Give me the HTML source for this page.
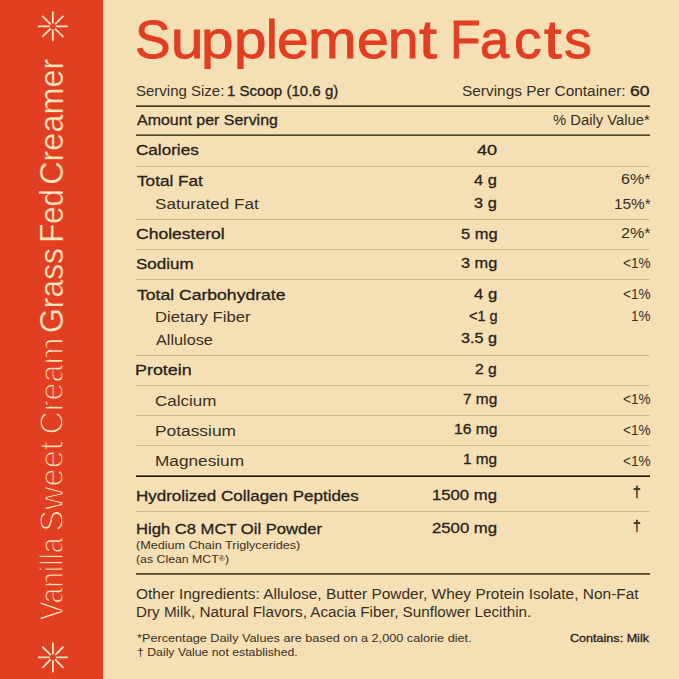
<!DOCTYPE html>
<html><head><meta charset="utf-8"><style>
html,body{margin:0;padding:0;}
body{width:679px;height:679px;background:#f5dfb4;position:relative;overflow:hidden;font-family:"Liberation Sans",sans-serif;color:#29231a;}
.t{position:absolute;white-space:nowrap;transform-origin:0 0;}
.l{position:absolute;}
#sb{position:absolute;left:0;top:0;width:103px;height:679px;background:#e23e21;}
.sw{position:absolute;left:0;top:0;white-space:nowrap;color:#fbe6c0;transform-origin:0 0;}
</style></head><body>
<div id="sb"><svg width="103" height="679" style="position:absolute;left:0;top:0"><path d="M56.50 26.40L67.00 26.40M55.42 29.02L62.84 36.44M52.80 30.10L52.80 40.60M50.18 29.02L42.76 36.44M49.10 26.40L38.60 26.40M50.18 23.78L42.76 16.36M52.80 22.70L52.80 12.20M55.42 23.78L62.84 16.36" stroke="#fbe6c0" stroke-width="1.8" stroke-linecap="round" fill="none"/><path d="M56.60 657.30L67.10 657.30M55.52 659.92L62.94 667.34M52.90 661.00L52.90 671.50M50.28 659.92L42.86 667.34M49.20 657.30L38.70 657.30M50.28 654.68L42.86 647.26M52.90 653.60L52.90 643.10M55.52 654.68L62.94 647.26" stroke="#fbe6c0" stroke-width="1.8" stroke-linecap="round" fill="none"/></svg><div class="sw" style="font-size:33px;line-height:33px;transform:translate(62.9px,620.35px) rotate(-90deg) scaleX(0.8567) translateY(-27.93px);-webkit-text-stroke:1.25px #e23e21;">Vanilla</div><div class="sw" style="font-size:33px;line-height:33px;transform:translate(62.9px,531.70px) rotate(-90deg) scaleX(0.9882) translateY(-27.93px);-webkit-text-stroke:1.25px #e23e21;">Sweet</div><div class="sw" style="font-size:33px;line-height:33px;transform:translate(62.9px,434.48px) rotate(-90deg) scaleX(0.9782) translateY(-27.93px);-webkit-text-stroke:1.25px #e23e21;">Cream</div><div class="sw" style="font-size:33px;line-height:33px;transform:translate(62.9px,332.99px) rotate(-90deg) scaleX(0.9660) translateY(-27.93px);-webkit-text-stroke:0.3px #e23e21;">Grass</div><div class="sw" style="font-size:33px;line-height:33px;transform:translate(62.9px,242.80px) rotate(-90deg) scaleX(0.9432) translateY(-27.93px);-webkit-text-stroke:0.3px #e23e21;">Fed</div><div class="sw" style="font-size:33px;line-height:33px;transform:translate(62.9px,184.82px) rotate(-90deg) scaleX(0.9818) translateY(-27.93px);-webkit-text-stroke:0.3px #e23e21;">Creamer</div></div>
<div class="l" style="top:105px;height:2px;left:136px;width:514px;background:linear-gradient(#857553 0 50%, #3f3419 50% 100%)"></div><div class="l" style="top:134px;height:2px;left:136px;width:514px;background:linear-gradient(#8a7a55 0 50%, #4e4222 50% 100%)"></div><div class="l" style="top:166px;height:1px;left:136px;width:514px;background:#d3bc8b"></div><div class="l" style="top:219px;height:1px;left:136px;width:514px;background:#d3bc8b"></div><div class="l" style="top:249px;height:1px;left:136px;width:514px;background:#d3bc8b"></div><div class="l" style="top:279px;height:1px;left:136px;width:514px;background:#d3bc8b"></div><div class="l" style="top:355px;height:1px;left:136px;width:514px;background:#d3bc8b"></div><div class="l" style="top:385px;height:1px;left:136px;width:514px;background:#d3bc8b"></div><div class="l" style="top:415px;height:1px;left:136px;width:514px;background:#d3bc8b"></div><div class="l" style="top:445px;height:1px;left:136px;width:514px;background:#d3bc8b"></div><div class="l" style="top:511px;height:1px;left:136px;width:514px;background:#d3bc8b"></div><div class="l" style="top:475px;height:2px;left:136px;width:514px;background:linear-gradient(#6e5e44 0 50%, #1c120a 50% 100%)"></div><div class="l" style="top:573px;height:2px;left:136px;width:514px;background:linear-gradient(#574a28 0 50%, #6f623f 50% 100%)"></div>
<div class="t" style="left:135.96px;top:83.33px;font-size:15.2px;line-height:15.2px;transform:scaleX(0.9874);color:#383022;">Serving Size:</div><div class="t" style="left:226.91px;top:83.33px;font-size:15.2px;line-height:15.2px;transform:scaleX(0.9910);-webkit-text-stroke:0.3px #29231a;">1 Scoop (10.6 g)</div><div class="t" style="left:462.44px;top:83.33px;font-size:15.2px;line-height:15.2px;transform:scaleX(1.0148);color:#383022;">Servings Per Container:</div><div class="t" style="left:630.42px;top:83.33px;font-size:15.2px;line-height:15.2px;transform:scaleX(1.1562);-webkit-text-stroke:0.3px #29231a;">60</div><div class="t" style="left:136.76px;top:111.73px;font-size:15.2px;line-height:15.2px;transform:scaleX(1.0497);-webkit-text-stroke:0.3px #29231a;">Amount per Serving</div><div class="t" style="left:552.61px;top:111.73px;font-size:15.2px;line-height:15.2px;transform:scaleX(0.9736);color:#383022;">% Daily Value*</div><div class="t" style="left:136.04px;top:141.63px;font-size:15.2px;line-height:15.2px;transform:scaleX(1.1255);-webkit-text-stroke:0.3px #29231a;">Calories</div><div class="t" style="left:476.80px;top:142.43px;font-size:15.2px;line-height:15.2px;transform:scaleX(1.1939);-webkit-text-stroke:0.3px #29231a;">40</div><div class="t" style="left:136.60px;top:172.63px;font-size:15.2px;line-height:15.2px;transform:scaleX(1.1313);-webkit-text-stroke:0.3px #29231a;">Total Fat</div><div class="t" style="left:474.30px;top:171.93px;font-size:15.2px;line-height:15.2px;transform:scaleX(1.0829);-webkit-text-stroke:0.3px #29231a;">4 g</div><div class="t" style="left:621.01px;top:171.13px;font-size:15.2px;line-height:15.2px;transform:scaleX(1.0579);color:#383022;">6%*</div><div class="t" style="left:154.85px;top:195.83px;font-size:15.2px;line-height:15.2px;transform:scaleX(1.1288);color:#383022;">Saturated Fat</div><div class="t" style="left:474.43px;top:195.13px;font-size:15.2px;line-height:15.2px;transform:scaleX(1.0765);-webkit-text-stroke:0.3px #29231a;">3 g</div><div class="t" style="left:613.69px;top:195.83px;font-size:15.2px;line-height:15.2px;transform:scaleX(1.0114);color:#383022;">15%*</div><div class="t" style="left:135.92px;top:226.03px;font-size:15.2px;line-height:15.2px;transform:scaleX(1.1550);-webkit-text-stroke:0.3px #29231a;">Cholesterol</div><div class="t" style="left:460.76px;top:225.53px;font-size:15.2px;line-height:15.2px;transform:scaleX(1.0831);-webkit-text-stroke:0.3px #29231a;">5 mg</div><div class="t" style="left:621.01px;top:224.83px;font-size:15.2px;line-height:15.2px;transform:scaleX(1.0579);color:#383022;">2%*</div><div class="t" style="left:135.94px;top:256.33px;font-size:15.2px;line-height:15.2px;transform:scaleX(1.1184);-webkit-text-stroke:0.3px #29231a;">Sodium</div><div class="t" style="left:461.03px;top:255.33px;font-size:15.2px;line-height:15.2px;transform:scaleX(1.0748);-webkit-text-stroke:0.3px #29231a;">3 mg</div><div class="t" style="left:622.83px;top:255.13px;font-size:15.2px;line-height:15.2px;transform:scaleX(0.8941);color:#383022;">&lt;1%</div><div class="t" style="left:136.50px;top:286.83px;font-size:15.2px;line-height:15.2px;transform:scaleX(1.1570);-webkit-text-stroke:0.3px #29231a;">Total Carbohydrate</div><div class="t" style="left:474.00px;top:285.83px;font-size:15.2px;line-height:15.2px;transform:scaleX(1.0976);-webkit-text-stroke:0.3px #29231a;">4 g</div><div class="t" style="left:622.83px;top:285.63px;font-size:15.2px;line-height:15.2px;transform:scaleX(0.8941);color:#383022;">&lt;1%</div><div class="t" style="left:155.00px;top:309.43px;font-size:15.2px;line-height:15.2px;transform:scaleX(1.0997);color:#383022;">Dietary Fiber</div><div class="t" style="left:468.62px;top:308.43px;font-size:15.2px;line-height:15.2px;transform:scaleX(0.9530);-webkit-text-stroke:0.3px #29231a;">&lt;1 g</div><div class="t" style="left:631.12px;top:308.23px;font-size:15.2px;line-height:15.2px;transform:scaleX(0.8829);color:#383022;">1%</div><div class="t" style="left:156.10px;top:331.73px;font-size:15.2px;line-height:15.2px;transform:scaleX(1.0686);color:#383022;">Allulose</div><div class="t" style="left:461.23px;top:330.43px;font-size:15.2px;line-height:15.2px;transform:scaleX(1.0687);-webkit-text-stroke:0.3px #29231a;">3.5 g</div><div class="t" style="left:135.42px;top:362.23px;font-size:15.2px;line-height:15.2px;transform:scaleX(1.1785);-webkit-text-stroke:0.3px #29231a;">Protein</div><div class="t" style="left:475.38px;top:361.13px;font-size:15.2px;line-height:15.2px;transform:scaleX(1.0300);-webkit-text-stroke:0.3px #29231a;">2 g</div><div class="t" style="left:155.26px;top:392.73px;font-size:15.2px;line-height:15.2px;transform:scaleX(1.1192);color:#383022;">Calcium</div><div class="t" style="left:463.09px;top:390.93px;font-size:15.2px;line-height:15.2px;transform:scaleX(1.0123);-webkit-text-stroke:0.3px #29231a;">7 mg</div><div class="t" style="left:622.83px;top:390.83px;font-size:15.2px;line-height:15.2px;transform:scaleX(0.8941);color:#383022;">&lt;1%</div><div class="t" style="left:154.96px;top:422.73px;font-size:15.2px;line-height:15.2px;transform:scaleX(1.1420);color:#383022;">Potassium</div><div class="t" style="left:453.87px;top:421.13px;font-size:15.2px;line-height:15.2px;transform:scaleX(1.0272);-webkit-text-stroke:0.3px #29231a;">16 mg</div><div class="t" style="left:622.83px;top:421.53px;font-size:15.2px;line-height:15.2px;transform:scaleX(0.8941);color:#383022;">&lt;1%</div><div class="t" style="left:154.97px;top:452.73px;font-size:15.2px;line-height:15.2px;transform:scaleX(1.1336);color:#383022;">Magnesium</div><div class="t" style="left:463.19px;top:451.13px;font-size:15.2px;line-height:15.2px;transform:scaleX(1.0094);-webkit-text-stroke:0.3px #29231a;">1 mg</div><div class="t" style="left:622.83px;top:453.03px;font-size:15.2px;line-height:15.2px;transform:scaleX(0.8941);color:#383022;">&lt;1%</div><div class="t" style="left:135.68px;top:487.93px;font-size:15.2px;line-height:15.2px;transform:scaleX(1.1182);-webkit-text-stroke:0.3px #29231a;">Hydrolized Collagen Peptides</div><div class="t" style="left:432.20px;top:486.73px;font-size:15.2px;line-height:15.2px;transform:scaleX(1.0991);-webkit-text-stroke:0.3px #29231a;">1500 mg</div><div class="t" style="left:135.71px;top:521.43px;font-size:15.2px;line-height:15.2px;transform:scaleX(1.0931);-webkit-text-stroke:0.3px #29231a;">High C8 MCT Oil Powder</div><div class="t" style="left:432.05px;top:520.43px;font-size:15.2px;line-height:15.2px;transform:scaleX(1.1017);-webkit-text-stroke:0.3px #29231a;">2500 mg</div><div class="t" style="left:633.08px;top:483.50px;font-size:15px;line-height:15px;transform:scaleX(0.9231);color:#383022;-webkit-text-stroke:0.4px #29231a;">&dagger;</div><div class="t" style="left:633.08px;top:518.00px;font-size:15px;line-height:15px;transform:scaleX(0.9231);color:#383022;-webkit-text-stroke:0.4px #29231a;">&dagger;</div><div class="t" style="left:135.83px;top:540.09px;font-size:11px;line-height:11px;transform:scaleX(1.1486);color:#383022;">(Medium Chain Triglycerides)</div><div class="t" style="left:135.84px;top:553.69px;font-size:11px;line-height:11px;transform:scaleX(1.1185);color:#383022;">(as Clean MCT<span style="font-size:0.68em;position:relative;top:-0.27em">&reg;</span>)</div><div class="t" style="left:135.94px;top:585.63px;font-size:15.2px;line-height:15.2px;transform:scaleX(1.0178);color:#383022;">Other Ingredients: Allulose, Butter Powder, Whey Protein Isolate, Non-Fat</div><div class="t" style="left:135.70px;top:604.13px;font-size:15.2px;line-height:15.2px;transform:scaleX(1.0028);color:#383022;">Dry Milk, Natural Flavors, Acacia Fiber, Sunflower Lecithin.</div><div class="t" style="left:137.01px;top:633.29px;font-size:11px;line-height:11px;transform:scaleX(1.1530);color:#383022;">*Percentage Daily Values are based on a 2,000 calorie diet.</div><div class="t" style="left:136.74px;top:647.09px;font-size:11px;line-height:11px;transform:scaleX(1.1152);color:#383022;">&dagger; Daily Value not established.</div><div class="t" style="left:570.31px;top:632.59px;font-size:11px;line-height:11px;transform:scaleX(1.1437);-webkit-text-stroke:0.3px #29231a;">Contains: Milk</div><div class="t" style="left:135.27px;top:13.24px;font-size:53px;line-height:53px;transform:scaleX(1.0048);color:#e23e21;-webkit-text-stroke:0.9px #e23e21">S</div><div class="t" style="left:170.61px;top:13.24px;font-size:53px;line-height:53px;transform:scaleX(1.0999);color:#e23e21;-webkit-text-stroke:0.9px #e23e21">u</div><div class="t" style="left:201.44px;top:13.24px;font-size:53px;line-height:53px;transform:scaleX(1.1024);color:#e23e21;-webkit-text-stroke:0.9px #e23e21">p</div><div class="t" style="left:233.64px;top:13.24px;font-size:53px;line-height:53px;transform:scaleX(1.1024);color:#e23e21;-webkit-text-stroke:0.9px #e23e21">p</div><div class="t" style="left:265.86px;top:13.24px;font-size:53px;line-height:53px;transform:scaleX(0.9934);color:#e23e21;-webkit-text-stroke:0.9px #e23e21">l</div><div class="t" style="left:276.89px;top:13.24px;font-size:53px;line-height:53px;transform:scaleX(1.0753);color:#e23e21;-webkit-text-stroke:0.9px #e23e21">e</div><div class="t" style="left:307.58px;top:13.24px;font-size:53px;line-height:53px;transform:scaleX(1.1012);color:#e23e21;-webkit-text-stroke:0.9px #e23e21">m</div><div class="t" style="left:357.20px;top:13.24px;font-size:53px;line-height:53px;transform:scaleX(1.0811);color:#e23e21;-webkit-text-stroke:0.9px #e23e21">e</div><div class="t" style="left:387.58px;top:13.24px;font-size:53px;line-height:53px;transform:scaleX(1.0365);color:#e23e21;-webkit-text-stroke:0.9px #e23e21">n</div><div class="t" style="left:419.08px;top:13.24px;font-size:53px;line-height:53px;transform:scaleX(1.2227);color:#e23e21;-webkit-text-stroke:0.9px #e23e21">t</div><div class="t" style="left:450.26px;top:13.24px;font-size:53px;line-height:53px;transform:scaleX(0.9414);color:#e23e21;-webkit-text-stroke:0.9px #e23e21">F</div><div class="t" style="left:479.78px;top:13.24px;font-size:53px;line-height:53px;transform:scaleX(0.9933);color:#e23e21;-webkit-text-stroke:0.9px #e23e21">a</div><div class="t" style="left:513.68px;top:13.24px;font-size:53px;line-height:53px;transform:scaleX(1.0377);color:#e23e21;-webkit-text-stroke:0.9px #e23e21">c</div><div class="t" style="left:543.52px;top:13.24px;font-size:53px;line-height:53px;transform:scaleX(1.1971);color:#e23e21;-webkit-text-stroke:0.9px #e23e21">t</div><div class="t" style="left:563.90px;top:13.24px;font-size:53px;line-height:53px;transform:scaleX(1.0512);color:#e23e21;-webkit-text-stroke:0.9px #e23e21">s</div>
<div style="position:absolute;left:195px;top:68.7px;width:80px;height:5px;background:#f5dfb4"></div>
</body></html>
